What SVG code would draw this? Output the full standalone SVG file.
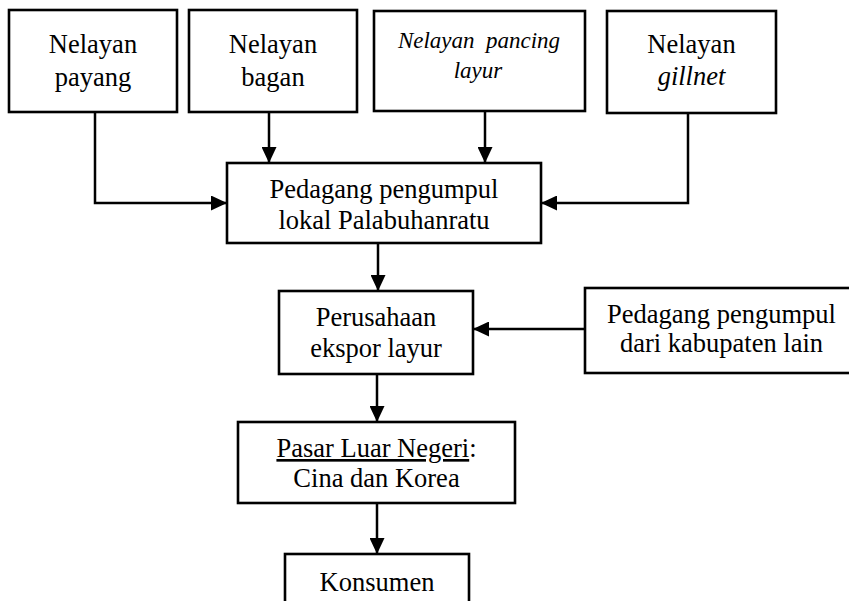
<svg xmlns="http://www.w3.org/2000/svg" width="849" height="601" viewBox="0 0 849 601">
<style>
.box{fill:#fff;stroke:#000;stroke-width:2.6}
.t{font-family:"Liberation Serif","Times New Roman",serif;font-size:26.5px;fill:#000;text-anchor:middle}
.i{font-style:italic}
.ln{fill:none;stroke:#000;stroke-width:2.5}
</style>
<defs>
<marker id="ah" viewBox="0 0 16 15" refX="16" refY="7.5" markerWidth="16" markerHeight="15" markerUnits="userSpaceOnUse" orient="auto">
<path d="M0,0 L16,7.5 L0,15 Z" fill="#000"/>
</marker>
</defs>
<rect width="849" height="601" fill="#fff"/>
<g id="connectors">
<path class="ln" d="M95,112 V203 H227" marker-end="url(#ah)"/>
<path class="ln" d="M269,112 V163" marker-end="url(#ah)"/>
<path class="ln" d="M485,112 V163" marker-end="url(#ah)"/>
<path class="ln" d="M688,113 V203 H541" marker-end="url(#ah)"/>
<path class="ln" d="M378,243 V291" marker-end="url(#ah)"/>
<path class="ln" d="M585,329 H473" marker-end="url(#ah)"/>
<path class="ln" d="M377,374 V422" marker-end="url(#ah)"/>
<path class="ln" d="M377,503 V554" marker-end="url(#ah)"/>
</g>
<g id="n1"><rect class="box" x="9" y="10" width="168" height="102"/>
<text class="t" x="93" y="53">Nelayan</text><text class="t" x="93" y="86">payang</text></g>
<g id="n2"><rect class="box" x="189" y="10" width="168" height="102"/>
<text class="t" x="273" y="53">Nelayan</text><text class="t" x="273" y="86">bagan</text></g>
<g id="n3"><rect class="box" x="374" y="11" width="211" height="100"/>
<text class="t i" x="479" y="48" style="font-size:23px" xml:space="preserve">Nelayan  pancing</text><text class="t i" x="478" y="78" style="font-size:23px">layur</text></g>
<g id="n4"><rect class="box" x="607" y="11" width="169" height="102"/>
<text class="t" x="691.5" y="53">Nelayan</text><text class="t i" x="691.5" y="85">gillnet</text></g>
<g id="n5"><rect class="box" x="227" y="163" width="314" height="80"/>
<text class="t" x="384" y="198">Pedagang pengumpul</text><text class="t" x="384" y="229">lokal Palabuhanratu</text></g>
<g id="n6"><rect class="box" x="279" y="291" width="194" height="83"/>
<text class="t" x="376" y="326">Perusahaan</text><text class="t" x="376" y="357">ekspor layur</text></g>
<g id="n7"><rect class="box" x="585" y="288" width="275" height="85"/>
<text class="t" x="721.5" y="323">Pedagang pengumpul</text><text class="t" x="721.5" y="352">dari kabupaten lain</text></g>
<g id="n8"><rect class="box" x="238" y="422" width="277" height="81"/>
<text class="t" x="376.5" y="457"><tspan text-decoration="underline">Pasar Luar Negeri</tspan>:</text><text class="t" x="376.5" y="487">Cina dan Korea</text></g>
<g id="n9"><rect class="box" x="285" y="554" width="184" height="60"/>
<text class="t" x="377" y="591">Konsumen</text></g>
</svg>
